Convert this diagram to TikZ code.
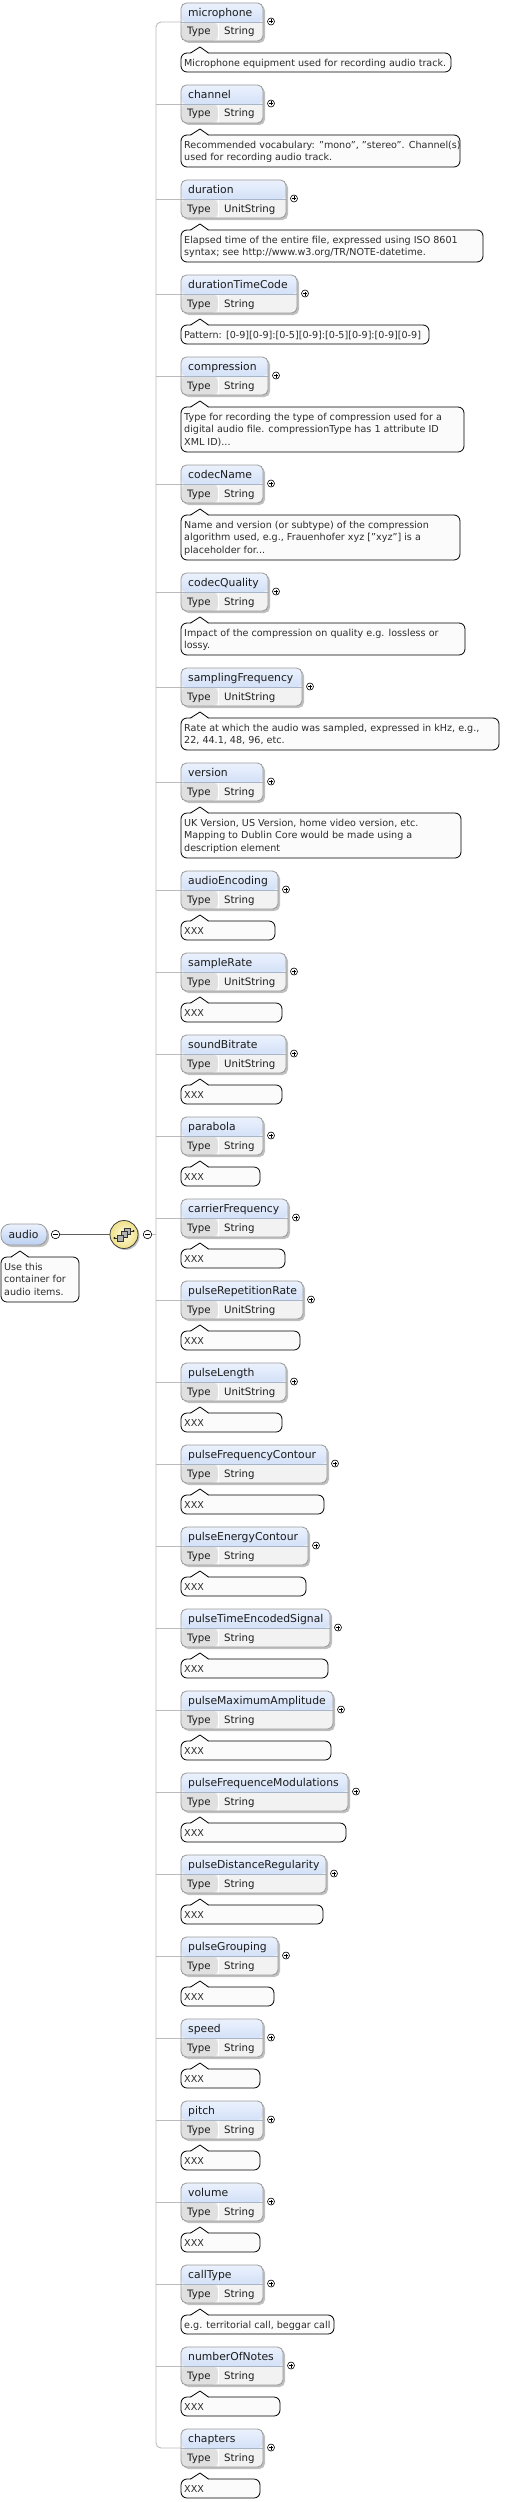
\documentclass[tikz,border=0pt]{standalone}
\usepackage{fontspec}
\setmainfont{DejaVu Sans}
\usetikzlibrary{shadows}
\definecolor{hdrtop}{HTML}{EBF2FD}
\definecolor{hdrbot}{HTML}{BCD0F2}
\definecolor{typec}{HTML}{E0E0E0}
\definecolor{valc}{HTML}{F2F2F2}
\definecolor{boxc}{HTML}{9A9A9A}
\definecolor{sepc}{HTML}{A8B4C8}
\definecolor{trunkc}{HTML}{BBBBBB}
\definecolor{cmtfill}{HTML}{FBFBFB}
\definecolor{txtc}{HTML}{1C1C1C}
\definecolor{ctxtc}{HTML}{2C2C2C}
\definecolor{seqin}{HTML}{FFFCDC}
\definecolor{seqout}{HTML}{EFE08A}
\definecolor{linkc}{HTML}{5E5E5E}
\tikzset{
  elbox/.style={draw=boxc, line width=0.8pt, rounded corners=5.5pt, fill=valc,
    minimum height=38pt, inner sep=0pt, outer sep=0pt, anchor=north west,
    drop shadow={shadow xshift=2pt, shadow yshift=-2pt, fill=black, opacity=0.25},
    path picture={
      \shade[top color=hdrtop, bottom color=hdrbot]
        (path picture bounding box.north west) rectangle ([yshift=-19.3pt]path picture bounding box.north east);
      \fill[typec] ([yshift=-19.3pt]path picture bounding box.north west) rectangle ([xshift=37pt]path picture bounding box.south west);
      \draw[sepc, line width=0.7pt] ([yshift=-19.3pt]path picture bounding box.north west) -- ([yshift=-19.3pt]path picture bounding box.north east);
      \draw[white, line width=0.7pt] ([xshift=37pt,yshift=-19.6pt]path picture bounding box.north west) -- ([xshift=37pt]path picture bounding box.south west);
    }},
  rootbox/.style={draw=boxc, line width=0.8pt, rounded corners=9pt,
    top color=hdrtop, bottom color=hdrbot, inner sep=0pt, outer sep=0pt, anchor=north west,
    drop shadow={shadow xshift=2pt, shadow yshift=-2pt, fill=black, opacity=0.25}},
  nm/.style={anchor=base west, inner sep=0pt, text=txtc, font=\fontsize{10.8}{13}\selectfont},
  tp/.style={anchor=base west, inner sep=0pt, text=txtc, font=\fontsize{10.2}{12}\selectfont},
  cmt/.style={draw=black, line width=0.8pt, fill=cmtfill, rounded corners=6pt,
    inner sep=0pt, outer sep=0pt, anchor=north west},
  ctext/.style={anchor=north west, inner sep=0pt, align=left, text=ctxtc, font=\fontsize{9.6}{12.6}\selectfont},
  plusc/.style={circle, draw=black, line width=0.6pt, fill=white, minimum size=7pt, inner sep=0pt,
    path picture={
      \draw[line width=0.6pt] ([xshift=-2pt]path picture bounding box.center) -- ([xshift=2pt]path picture bounding box.center);
      \draw[line width=0.6pt] ([yshift=-2pt]path picture bounding box.center) -- ([yshift=2pt]path picture bounding box.center);
    }},
  minusc/.style={circle, draw=black, line width=0.6pt, fill=white, minimum size=8.5pt, inner sep=0pt,
    path picture={
      \draw[line width=0.6pt] ([xshift=-2.3pt]path picture bounding box.center) -- ([xshift=2.3pt]path picture bounding box.center);
    }},
  seqc/.style={circle, draw=black!75, line width=0.8pt, inner color=seqin, outer color=seqout,
    minimum size=28pt, inner sep=0pt,
    drop shadow={shadow xshift=1.5pt, shadow yshift=-1.5pt, fill=black, opacity=0.25}},
  trunk/.style={draw=trunkc, line width=0.9pt},
  link/.style={draw=linkc, line width=1.3pt},
  ptrfill/.style={fill=cmtfill},
  ptrline/.style={draw=black, line width=0.8pt, line join=miter},
  sq/.style={draw=black!80, fill=gray!60, line width=0.6pt},
}
% #1 id, #2 name, #3 top, #4 right, #5 type, #6 comment right, #7 lines, #8 text
\newcommand\elem[8]{%
  \pgfmathsetmacro\eW{#4-181}%
  \pgfmathsetmacro\eC{#3+50}%
  \pgfmathsetmacro\eH{19+13*(#7-1)}%
  \pgfmathsetmacro\cW{#6-181}%
  \node[elbox, minimum width=\eW pt] (#1) at (181,#3) {};
  \node[nm] (#1-n) at (188,#3+13.5) {#2};
  \node[tp] (#1-t) at (187,#3+32) {Type};
  \node[tp] (#1-v) at (224,#3+32) {#5};
  \node[plusc] (#1-p) at (#4+8,#3+18.5) {};
  \coordinate (#1-j) at (156,#3+19);
  \node[cmt, minimum width=\cW pt, minimum height=\eH pt] (#1-c) at (181,\eC) {};
  \fill[ptrfill] (190.5,\eC+0.9) -- (200,\eC-6) -- (208.5,\eC+0.9) -- cycle;
  \draw[ptrline] (190.5,\eC) -- (200,\eC-6) -- (208.5,\eC);
  \node[ctext] (#1-x) at (184,\eC+5) {\rule{0pt}{8pt}#8};
}
\begin{document}
\begin{tikzpicture}[x=1pt,y=-1pt]
\fill[white] (0,0) rectangle (523,2502);
\useasboundingbox (0,0) rectangle (523,2502);

\elem{microphone}{microphone}{3}{263}{String}{451}{1}{Microphone equipment used for recording audio track.}
\elem{channel}{channel}{85}{263}{String}{460}{2}{Recommended vocabulary: "mono", "stereo". Channel(s)\\used for recording audio track.}
\elem{duration}{duration}{180}{286}{UnitString}{483}{2}{Elapsed time of the entire file, expressed using ISO 8601\\syntax; see http://www.w3.org/TR/NOTE-datetime.}
\elem{durationTimeCode}{durationTimeCode}{275}{297}{String}{429}{1}{Pattern: [0-9][0-9]:[0-5][0-9]:[0-5][0-9]:[0-9][0-9]}
\elem{compression}{compression}{357}{268}{String}{464}{3}{Type for recording the type of compression used for a\\digital audio file. compressionType has 1 attribute ID\\XML ID)...}
\elem{codecName}{codecName}{465}{263}{String}{460}{3}{Name and version (or subtype) of the compression\\algorithm used, e.g., Frauenhofer xyz ["xyz"] is a\\placeholder for...}
\elem{codecQuality}{codecQuality}{573}{268}{String}{465}{2}{Impact of the compression on quality e.g. lossless or\\lossy.}
\elem{samplingFrequency}{samplingFrequency}{668}{302}{UnitString}{499}{2}{Rate at which the audio was sampled, expressed in kHz, e.g.,\\22, 44.1, 48, 96, etc.}
\elem{version}{version}{763}{263}{String}{461}{3}{UK Version, US Version, home video version, etc.\\Mapping to Dublin Core would be made using a\\description element}
\elem{audioEncoding}{audioEncoding}{871}{278}{String}{275}{1}{XXX}
\elem{sampleRate}{sampleRate}{953}{286}{UnitString}{282}{1}{XXX}
\elem{soundBitrate}{soundBitrate}{1035}{286}{UnitString}{282}{1}{XXX}
\elem{parabola}{parabola}{1117}{263}{String}{260}{1}{XXX}
\elem{carrierFrequency}{carrierFrequency}{1199}{288}{String}{285}{1}{XXX}
\elem{pulseRepetitionRate}{pulseRepetitionRate}{1281}{303}{UnitString}{300}{1}{XXX}
\elem{pulseLength}{pulseLength}{1363}{286}{UnitString}{282}{1}{XXX}
\elem{pulseFrequencyContour}{pulseFrequencyContour}{1445}{327}{String}{324}{1}{XXX}
\elem{pulseEnergyContour}{pulseEnergyContour}{1527}{308}{String}{306}{1}{XXX}
\elem{pulseTimeEncodedSignal}{pulseTimeEncodedSignal}{1609}{330}{String}{328}{1}{XXX}
\elem{pulseMaximumAmplitude}{pulseMaximumAmplitude}{1691}{333}{String}{331}{1}{XXX}
\elem{pulseFrequenceModulations}{pulseFrequenceModulations}{1773}{348}{String}{346}{1}{XXX}
\elem{pulseDistanceRegularity}{pulseDistanceRegularity}{1855}{326}{String}{323}{1}{XXX}
\elem{pulseGrouping}{pulseGrouping}{1937}{278}{String}{274}{1}{XXX}
\elem{speed}{speed}{2019}{263}{String}{260}{1}{XXX}
\elem{pitch}{pitch}{2101}{263}{String}{260}{1}{XXX}
\elem{volume}{volume}{2183}{263}{String}{260}{1}{XXX}
\elem{callType}{callType}{2265}{263}{String}{334}{1}{e.g. territorial call, beggar call}
\elem{numberOfNotes}{numberOfNotes}{2347}{283}{String}{280}{1}{XXX}
\elem{chapters}{chapters}{2429}{263}{String}{260}{1}{XXX}

% trunk
\draw[trunk, rounded corners=5pt] (microphone.west) -- (microphone-j) -- (chapters-j) -- (chapters.west);
\foreach \i in {channel,duration,durationTimeCode,compression,codecName,codecQuality,samplingFrequency,version,audioEncoding,sampleRate,soundBitrate,parabola,carrierFrequency,pulseRepetitionRate,pulseLength,pulseFrequencyContour,pulseEnergyContour,pulseTimeEncodedSignal,pulseMaximumAmplitude,pulseFrequenceModulations,pulseDistanceRegularity,pulseGrouping,speed,pitch,volume,callType,numberOfNotes}
  \draw[trunk] (\i-j) -- (\i.west);

% root element
\node[rootbox, minimum width=46pt, minimum height=21pt] (audio) at (1,1224) {};
\node[nm, anchor=base] (audio-n) at (23.5,1238.5) {audio};
\node[cmt, minimum width=78pt, minimum height=45pt] (audio-c) at (1,1257) {};
\fill[ptrfill] (11,1257.9) -- (20,1251) -- (28.5,1257.9) -- cycle;
\draw[ptrline] (11,1257) -- (20,1251) -- (28.5,1257);
\node[ctext] (audio-x) at (4,1262) {\rule{0pt}{8pt}Use this\\container for\\audio items.};

\node[minusc] (audio-m) at (55.5,1234.5) {};
\node[seqc] (seq) at (124,1234.5) {};
\node[minusc] (seq-m) at (147.5,1234.5) {};
\coordinate (trunk-mid) at (156,1234.5);
\draw[link] (audio-m) -- (seq);
\draw[trunk] (seq-m) -- (trunk-mid);

% sequence icon
\draw[black!80, line width=0.7pt] (114.5,1238) -- (118,1238);
\fill[black!85] (114.5,1238) circle (1.2);
\draw[black!80, line width=0.7pt] (130,1231) -- (133.5,1231);
\fill[black!85] (133.5,1231) circle (1.2);
\draw[sq] (124.5,1228) rectangle (130.5,1234);
\draw[sq] (121,1231.5) rectangle (127,1237.5);
\draw[sq] (117.5,1235) rectangle (123.5,1241);
\end{tikzpicture}
\end{document}
